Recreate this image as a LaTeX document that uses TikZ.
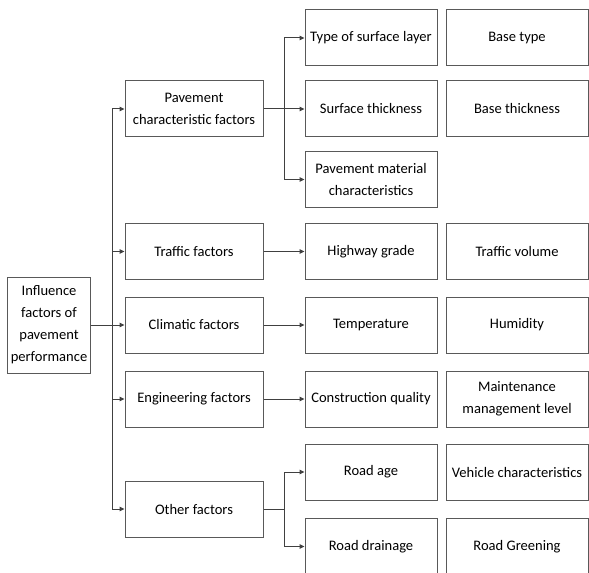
\documentclass[tikz,border=0pt]{standalone}
\usepackage{fontspec}
\setmainfont{Carlito}
\usetikzlibrary{arrows.meta}
\definecolor{ln}{HTML}{404040}
\definecolor{bx}{HTML}{595959}
\begin{document}
\begin{tikzpicture}[x=1bp,y=-1bp,
  box/.style={draw=bx,line width=1bp,rectangle,align=center,inner sep=0pt,
    font=\fontsize{14.6}{22}\selectfont,text=black},
  lone/.style={box,minimum width=138bp,minimum height=56bp},
  cone/.style={box,minimum width=132bp,minimum height=56bp},
  ctwo/.style={box,minimum width=142bp,minimum height=56bp},
  con/.style={draw=ln,line width=1bp},
  arr/.style={con,-{Triangle[length=5bp,width=4.5bp]}}]
\useasboundingbox (0,0) rectangle (589,573);
% root
\node[box,minimum width=82bp,minimum height=96bp] (root) at (49,325) {Influence\\factors of\\pavement\\performance};
% level 1
\node[lone] (pav) at (194,109) {Pavement\\characteristic factors};
\node[lone] (tra) at (194,251.5) {Traffic factors};
\node[lone] (cli) at (194,325) {Climatic factors};
\node[lone] (eng) at (194,399) {Engineering factors};
\node[lone] (oth) at (194,509) {Other factors};
% column 1
\node[cone] (t1) at (371,38) {Type of surface layer};
\node[cone] (t2) at (371,109) {Surface thickness};
\node[cone] (t3) at (371,179.5) {Pavement material\\characteristics};
\node[cone] (hg) at (371,251.5) {Highway grade};
\node[cone] (te) at (371,325) {Temperature};
\node[cone] (cq) at (371,399) {Construction quality};
\node[cone] (ra) at (371,472) {Road age};
\node[cone] (rd) at (371,546.5) {Road drainage};
% column 2
\node[ctwo] (bt) at (517,38) {Base type};
\node[ctwo] (bth) at (517,109) {Base thickness};
\node[ctwo] (tv) at (517,251.5) {Traffic volume};
\node[ctwo] (hu) at (517,325) {Humidity};
\node[ctwo] (mm) at (517,399) {Maintenance\\management level};
\node[ctwo] (vc) at (517,472) {Vehicle characteristics};
\node[ctwo] (rg) at (517,546.5) {Road Greening};
% spine
\coordinate (s1) at (112,109);
\coordinate (s2) at (112,251.5);
\coordinate (s3) at (112,325);
\coordinate (s4) at (112,399);
\coordinate (s5) at (112,509);
\draw[con] (root.east) -- (s3);
\draw[con] (s1) -- (s5);
\draw[arr] (s1) -- (pav);
\draw[arr] (s2) -- (tra);
\draw[arr] (s3) -- (cli);
\draw[arr] (s4) -- (eng);
\draw[arr] (s5) -- (oth);
% pavement branch
\coordinate (p1) at (284,38);
\coordinate (p2) at (284,109);
\coordinate (p3) at (284,179.5);
\draw[con] (pav.east) -- (p2);
\draw[con] (p1) -- (p3);
\draw[arr] (p1) -- (t1);
\draw[arr] (p2) -- (t2);
\draw[arr] (p3) -- (t3);
% single branches
\draw[arr] (tra) -- (hg);
\draw[arr] (cli) -- (te);
\draw[arr] (eng) -- (cq);
% other branch
\coordinate (o1) at (284,472);
\coordinate (o2) at (284,509);
\coordinate (o3) at (284,546.5);
\draw[con] (oth.east) -- (o2);
\draw[con] (o1) -- (o3);
\draw[arr] (o1) -- (ra);
\draw[arr] (o3) -- (rd);
\end{tikzpicture}
\end{document}
